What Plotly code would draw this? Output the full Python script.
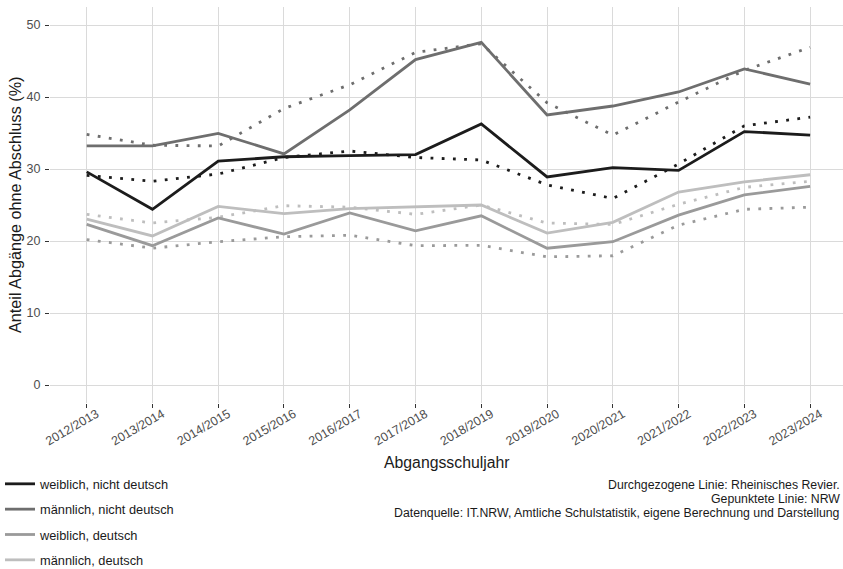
import plotly.graph_objects as go

years = ["2012/2013", "2013/2014", "2014/2015", "2015/2016", "2016/2017", "2017/2018",
         "2018/2019", "2019/2020", "2020/2021", "2021/2022", "2022/2023", "2023/2024"]

groups = ["weiblich, nicht deutsch", "männlich, nicht deutsch", "weiblich, deutsch", "männlich, deutsch"]

# Rheinisches Revier (solid)
rr_w_nd = [29.6, 24.4, 31.1, 31.7, 31.85, 32.0, 36.25, 28.9, 30.2, 29.8, 35.2, 34.7]
rr_m_nd = [33.2, 33.2, 34.95, 32.1, 38.2, 45.2, 47.6, 37.5, 38.75, 40.7, 43.9, 41.8]
rr_w_d = [22.3, 19.35, 23.2, 20.95, 23.9, 21.4, 23.5, 19.0, 19.9, 23.6, 26.4, 27.6]
rr_m_d = [23.05, 20.7, 24.8, 23.8, 24.5, 24.7, 25.0, 21.1, 22.6, 26.8, 28.2, 29.2]

# NRW (dotted)
nrw_w_nd = [29.1, 28.3, 29.3, 31.6, 32.5, 31.6, 31.25, 27.8, 25.9, 30.7, 36.0, 37.2]
nrw_m_nd = [34.8, 33.3, 33.2, 38.4, 41.7, 46.2, 47.4, 39.2, 34.7, 39.3, 43.7, 46.9]
nrw_w_d = [20.2, 19.0, 19.9, 20.6, 20.8, 19.35, 19.4, 17.8, 17.95, 22.2, 24.4, 24.7]
nrw_m_d = [23.7, 22.5, 23.3, 24.9, 24.7, 23.7, 25.0, 22.5, 22.3, 25.1, 27.45, 28.3]

y_ticks = [0, 10, 20, 30, 40, 50]

colors = ["#1c1c1c", "#6e6e6e", "#9a9a9a", "#bebebe"]
rr = [rr_w_nd, rr_m_nd, rr_w_d, rr_m_d]
nrw = [nrw_w_nd, nrw_m_nd, nrw_w_d, nrw_m_d]

FONT = "Liberation Sans, Arial, Helvetica, sans-serif"

fig = go.Figure()
for i, g in enumerate(groups):
    fig.add_trace(go.Scatter(
        x=years, y=nrw[i], mode="lines", name=g, showlegend=False,
        legendgroup=g,
        line=dict(color=colors[i], width=2.8, dash="2.8px,8.4px"),
    ))
for i, g in enumerate(groups):
    fig.add_trace(go.Scatter(
        x=years, y=rr[i], mode="lines", name=g, showlegend=True,
        legendgroup=g,
        line=dict(color=colors[i], width=2.8),
    ))

# plot area in pixels: left 50, right 843, top 7, bottom 403
L, R, T, B = 50, 843, 7, 403
W, H = 843, 569
ph = B - T

def py(pix):
    return (B - pix) / ph

def px(pix):
    return (pix - L) / (R - L)

fig.update_layout(
    width=W, height=H,
    margin=dict(l=L, r=W - R, t=T, b=H - B, pad=0, autoexpand=False),
    plot_bgcolor="white", paper_bgcolor="white",
    font=dict(family=FONT, color="#1a1a1a", size=13),
    xaxis=dict(
        type="category", range=[-0.558, 11.5],
        showgrid=True, gridcolor="#dadada", gridwidth=1.1,
        ticks="outside", ticklen=4, tickcolor="#333333", tickwidth=1,
        tickangle=-30, tickfont=dict(size=12.5, color="#4d4d4d"),
        ticklabelshift=10, ticklabelstandoff=-6,
        showline=False, zeroline=False,
    ),
    yaxis=dict(
        range=[-2.5, 52.5], tickvals=y_ticks,
        showgrid=True, gridcolor="#dadada", gridwidth=1.1,
        ticks="outside", ticklen=4, tickcolor="#333333", tickwidth=1,
        tickfont=dict(size=12.5, color="#4d4d4d"), ticklabelstandoff=2,
        showline=False, zeroline=False,
    ),
    legend=dict(
        x=px(0), y=py(469), xanchor="left", yanchor="top",
        font=dict(size=12.8, color="#1a1a1a"),
        tracegroupgap=5.7, bgcolor="rgba(0,0,0,0)", borderwidth=0,
        traceorder="grouped",
    ),
    showlegend=True,
)

annotations = [
    dict(text="Abgangsschuljahr", x=0.5, y=py(462), xref="paper", yref="paper",
         xanchor="center", yanchor="middle", showarrow=False,
         font=dict(size=15.8, color="#1a1a1a")),
    dict(text="Anteil Abgänge ohne Abschluss (%)", x=px(15), y=py(205), xref="paper", yref="paper",
         xanchor="center", yanchor="middle", showarrow=False, textangle=-90,
         font=dict(size=16.2, color="#1a1a1a")),
    dict(text="Durchgezogene Linie: Rheinisches Revier.", x=px(842), y=py(485),
         xref="paper", yref="paper", xanchor="right", yanchor="middle", showarrow=False,
         font=dict(size=12.3, color="#1a1a1a")),
    dict(text="Gepunktete Linie: NRW", x=px(842), y=py(499),
         xref="paper", yref="paper", xanchor="right", yanchor="middle", showarrow=False,
         font=dict(size=12.3, color="#1a1a1a")),
    dict(text="Datenquelle: IT.NRW, Amtliche Schulstatistik, eigene Berechnung und Darstellung",
         x=px(842), y=py(513),
         xref="paper", yref="paper", xanchor="right", yanchor="middle", showarrow=False,
         font=dict(size=12.3, color="#1a1a1a")),
]
fig.update_layout(annotations=annotations)

fig.write_html(
    "out.html",
    config={"displayModeBar": False},
    post_script="document.body.style.margin='0';document.body.style.overflow='hidden';",
)
